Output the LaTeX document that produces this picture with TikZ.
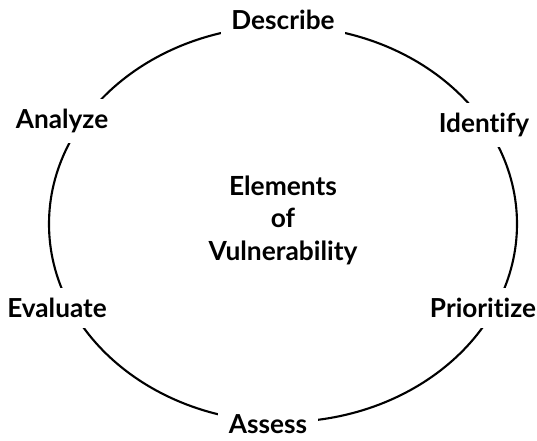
\documentclass[tikz,border=0pt]{standalone}
\usepackage{fontspec}
\setmainfont{Lato}[Ligatures=NoCommon]
\usetikzlibrary{positioning}

\begin{document}
\begin{tikzpicture}[x=0.02cm,y=-0.02cm]
\tikzset{
  step label/.style={fill=white, inner sep=6pt, font=\bfseries\fontsize{14.9}{18}\selectfont},
  centre label/.style={align=center, font=\bfseries\fontsize{15}{18.5}\selectfont}
}
\useasboundingbox (0,0) rectangle (537,440);

% The cycle
\draw[line width=1.2pt] (283,224) ellipse [x radius=234, y radius=198];

% Steps round the cycle
\node[step label] (describe) at (283,20) {Describe};
\node[step label] (identify) at (484,125) {Identify};
\node[step label] (prioritize) at (483,308) {Prioritize};
\node[step label] (assess) at (268,424) {Assess};
\node[step label] (evaluate) at (57,308) {Evaluate};
\node[step label] (analyze) at (62,121) {Analyze};

% Centre
\node[centre label] (elements) at (283,220) {Elements\\of\\Vulnerability};
\end{tikzpicture}
\end{document}
